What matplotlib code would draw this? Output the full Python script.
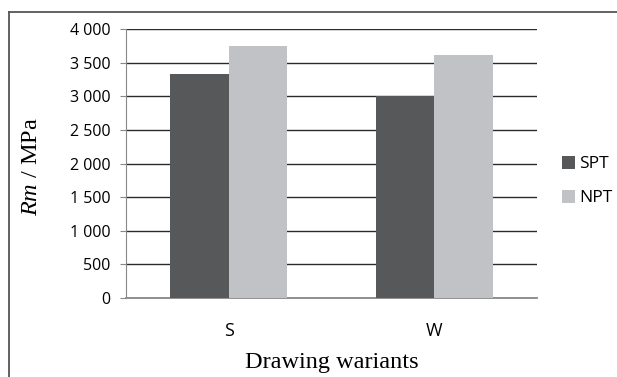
import matplotlib.pyplot as plt
import numpy as np
from matplotlib.lines import Line2D

# data
variants = ["S", "W"]
spt = [3330, 3000]
npt = [3750, 3610]
yticks = [0, 500, 1000, 1500, 2000, 2500, 3000, 3500, 4000]
ytick_labels = ["0", "500", "1 000", "1 500", "2 000", "2 500", "3 000", "3 500", "4 000"]

plt.rcParams["mathtext.fontset"] = "custom"
plt.rcParams["mathtext.it"] = "Liberation Serif:italic"
plt.rcParams["mathtext.rm"] = "Liberation Serif"

W, H = 617, 377
fig = plt.figure(figsize=(W / 100, H / 100), dpi=100)
ax = fig.add_axes([126 / W, 1 - 298 / H, 411 / W, 268.7 / H])

# outer frame: only top and left edges show
fig.add_artist(Line2D([9 / W, 1], [1 - 12 / H, 1 - 12 / H], transform=fig.transFigure,
                      color="#555555", linewidth=1.3))
fig.add_artist(Line2D([9 / W, 9 / W], [0, 1 - 12 / H], transform=fig.transFigure,
                      color="#555555", linewidth=1.3))

x = np.arange(len(variants))
w = 0.285
ax.bar(x - w / 2, spt, w, color="#57585a", label="SPT", zorder=3)
ax.bar(x + w / 2, npt, w, color="#c1c2c5", label="NPT", zorder=3)

ax.set_xlim(-0.5, 1.5)
ax.set_ylim(0, 4000)
ax.set_yticks(yticks)
ax.set_yticklabels(ytick_labels, fontfamily="Open Sans", fontsize=11.5)
ax.set_xticks(x)
ax.set_xticklabels(variants, fontfamily="Open Sans", fontsize=13)
ax.tick_params(axis="x", length=0, pad=17)
ax.tick_params(axis="y", length=4, color="#888888", pad=7)
ax.yaxis.grid(True, color="#2a2a2a", linewidth=1.0, zorder=0)

for s in ["top", "right"]:
    ax.spines[s].set_visible(False)
ax.spines["left"].set_color("#888888")
ax.spines["bottom"].set_color("#888888")
ax.spines["bottom"].set_linewidth(1.3)

ax.set_xlabel("Drawing wariants", fontfamily="Liberation Serif", fontsize=17.5)
ax.xaxis.set_label_coords(0.5, -0.24)
ax.xaxis.label.set_va("center")
ax.set_ylabel(r"$Rm$ / MPa", fontfamily="Liberation Serif", fontsize=17.5)
ax.yaxis.set_label_coords(-0.23, 0.49)
ax.yaxis.label.set_va("center")

leg = ax.legend(loc="center left", bbox_to_anchor=(1.045, 0.435), frameon=False,
                prop={"family": "Open Sans", "size": 12.5}, handlelength=0.75, handleheight=0.75,
                handletextpad=0.2, labelspacing=1.0, borderaxespad=0)

fig.savefig("out.png", dpi=100)
